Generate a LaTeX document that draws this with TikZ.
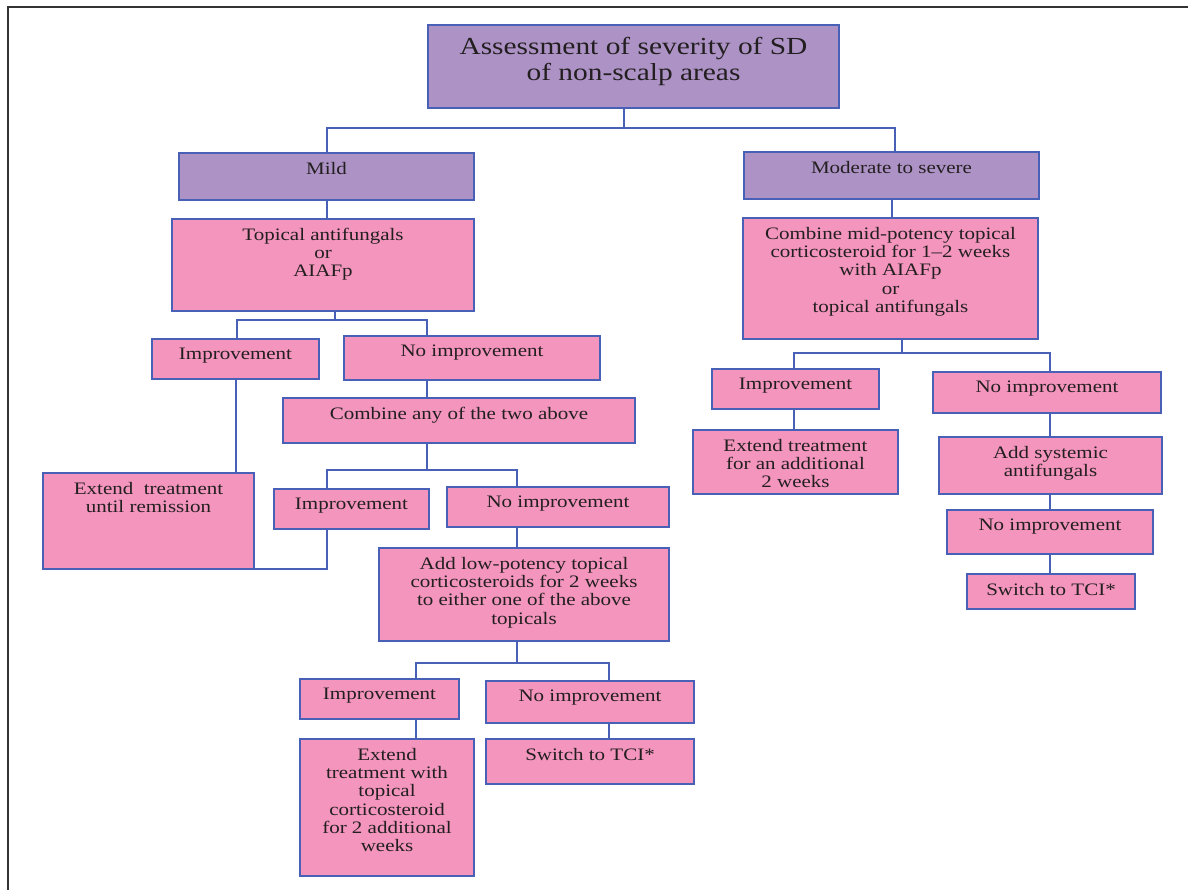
\documentclass[tikz,border=0pt]{standalone}
\usepackage{fontspec}
\setmainfont{Liberation Serif}[FakeStretch=1.2]
\usepackage{tikz}
\usetikzlibrary{fit}
\definecolor{lilacfill}{RGB}{173,146,197}
\definecolor{pinkfill}{RGB}{243,149,189}
\definecolor{boxline}{RGB}{72,96,181}
\definecolor{ink}{RGB}{35,31,32}
\tikzset{
  box/.style={draw=boxline, line width=1pt, inner sep=0pt, outer sep=0pt},
  lilacbox/.style={box, fill=lilacfill},
  pinkbox/.style={box, fill=pinkfill},
  txt/.style={anchor=north, align=center, inner sep=0pt, outer sep=0pt, yshift=-4.5pt, text=ink, font=\fontsize{8.75}{9.15}\selectfont},
  link/.style={draw=boxline, line width=1pt, line cap=rect},
  frame/.style={draw=black!80, line width=1pt}
}

\begin{document}
\begin{tikzpicture}[x=0.5pt,y=-0.5pt]
  \useasboundingbox (0,0) rectangle (1188,890);
  \draw[frame] (8,890) -- (8,7) -- (1188,7);

  \node[lilacbox, fit={(428,25) (839,108)}, label={[txt, yshift=-1.5pt, font=\fontsize{12.25}{13.35}\selectfont]north:{Assessment of severity of SD\\of non-scalp areas}}] (head) {};
  \node[lilacbox, fit={(179,153) (474,200)}, label={[txt]north:Mild}] (mild) {};
  \node[lilacbox, fit={(744,152) (1039,199)}, label={[txt]north:Moderate to severe}] (mod) {};
  \node[pinkbox, fit={(172,219) (474,311)}, label={[txt]north:{Topical antifungals\\or\\AIAFp}}] (topa) {};
  \node[pinkbox, fit={(743,218) (1038,339)}, label={[txt]north:{Combine mid-potency topical\\corticosteroid for 1--2 weeks\\with AIAFp\\or\\topical antifungals}}] (topb) {};
  \node[pinkbox, fit={(152,339) (319,379)}, label={[txt]north:Improvement}] (imp1) {};
  \node[pinkbox, fit={(344,336) (600,380)}, label={[txt]north:No improvement}] (noimp1) {};
  \node[pinkbox, fit={(43,473) (254,569)}, label={[txt]north:{Extend\ \ treatment\\until remission}}] (ext1) {};
  \node[pinkbox, fit={(283,398) (635,443)}, label={[txt]north:Combine any of the two above}] (comb) {};
  \node[pinkbox, fit={(274,489) (429,529)}, label={[txt]north:Improvement}] (imp2) {};
  \node[pinkbox, fit={(447,487) (669,527)}, label={[txt]north:No improvement}] (noimp2) {};
  \node[pinkbox, fit={(379,548) (669,641)}, label={[txt]north:{Add low-potency topical\\corticosteroids for 2 weeks\\to either one of the above\\topicals}}] (addlow) {};
  \node[pinkbox, fit={(300,679) (459,719)}, label={[txt]north:Improvement}] (imp3) {};
  \node[pinkbox, fit={(486,681) (694,723)}, label={[txt]north:No improvement}] (noimp3) {};
  \node[pinkbox, fit={(300,739) (474,876)}, label={[txt]north:{Extend\\treatment with\\topical\\corticosteroid\\for 2 additional\\weeks}}] (ext3) {};
  \node[pinkbox, fit={(486,739) (694,784)}, label={[txt]north:Switch to TCI*}] (tci1) {};
  \node[pinkbox, fit={(712,369) (879,409)}, label={[txt]north:Improvement}] (imp4) {};
  \node[pinkbox, fit={(933,372) (1161,413)}, label={[txt]north:No improvement}] (noimp4) {};
  \node[pinkbox, fit={(693,430) (898,494)}, label={[txt]north:{Extend treatment\\for an additional\\2 weeks}}] (ext4) {};
  \node[pinkbox, fit={(939,437) (1162,494)}, label={[txt]north:{Add systemic\\antifungals}}] (addsys) {};
  \node[pinkbox, fit={(947,510) (1153,554)}, label={[txt]north:No improvement}] (noimp5) {};
  \node[pinkbox, fit={(967,574) (1135,609)}, label={[txt]north:Switch to TCI*}] (tci2) {};

  \coordinate (a-s) at (624,128); \coordinate (a-l) at (327,128); \coordinate (a-r) at (895,128);
  \coordinate (b-s) at (335,320); \coordinate (b-l) at (237,320); \coordinate (b-r) at (427,320);
  \coordinate (c-s) at (427,470); \coordinate (c-l) at (327,470); \coordinate (c-r) at (517,470);
  \coordinate (d-s) at (517,663); \coordinate (d-l) at (416,663); \coordinate (d-r) at (609,663);
  \coordinate (e-s) at (902,353); \coordinate (e-l) at (794,353); \coordinate (e-r) at (1050,353);

  \path[link]
    (head.south -| a-s) edge (a-s)
    (a-l) edge (a-r)
    (a-l) edge (mild.north -| a-l)
    (a-r) edge (mod.north -| a-r)
    (mild.south) edge (topa.north -| mild.south)
    (mod.south) edge (topb.north -| mod.south)
    (topa.south -| b-s) edge (b-s)
    (b-l) edge (b-r)
    (b-l) edge (imp1.north -| b-l)
    (b-r) edge (noimp1.north -| b-r)
    (imp1.south) edge (ext1.north -| imp1.south)
    (noimp1.south -| b-r) edge (comb.north -| b-r)
    (comb.south -| c-s) edge (c-s)
    (c-l) edge (c-r)
    (c-l) edge (imp2.north -| c-l)
    (c-r) edge (noimp2.north -| c-r)
    (imp2.south -| c-l) edge (ext1.south -| c-l)
    (ext1.south -| c-l) edge (ext1.south east)
    (noimp2.south -| c-r) edge (addlow.north -| c-r)
    (addlow.south -| d-s) edge (d-s)
    (d-l) edge (d-r)
    (d-l) edge (imp3.north -| d-l)
    (d-r) edge (noimp3.north -| d-r)
    (imp3.south -| d-l) edge (ext3.north -| d-l)
    (noimp3.south -| d-r) edge (tci1.north -| d-r)
    (topb.south -| e-s) edge (e-s)
    (e-l) edge (e-r)
    (e-l) edge (imp4.north -| e-l)
    (e-r) edge (noimp4.north -| e-r)
    (imp4.south -| e-l) edge (ext4.north -| e-l)
    (noimp4.south -| e-r) edge (addsys.north -| e-r)
    (addsys.south -| e-r) edge (noimp5.north -| e-r)
    (noimp5.south -| e-r) edge (tci2.north -| e-r);
\end{tikzpicture}
\end{document}
